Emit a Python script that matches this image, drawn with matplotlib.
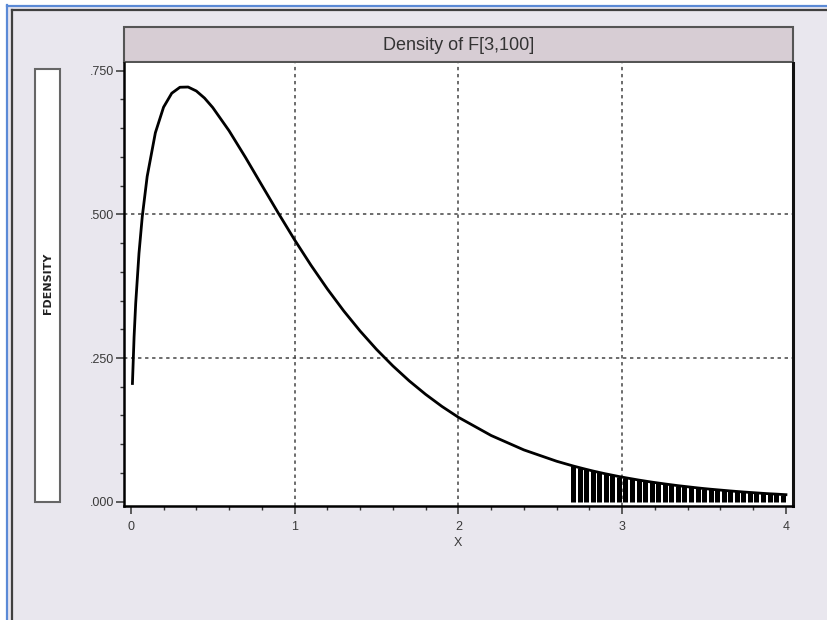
import numpy as np
import matplotlib
matplotlib.use("Agg")
import matplotlib.pyplot as plt
from matplotlib.patches import Rectangle
from matplotlib.lines import Line2D
from matplotlib.ticker import MultipleLocator, FuncFormatter

plt.rcParams["font.family"] = ["Liberation Sans", "DejaVu Sans"]

TITLE = "Density of F[3,100]"
YLABEL = "FDENSITY"
XLABEL = "X"
X_TICKS = [0, 1, 2, 3, 4]
Y_TICKS = [0.0, 0.25, 0.5, 0.75]
CRIT = 2.70  # shaded tail starts here

# density curve
x_vals = [0.01, 0.02, 0.03, 0.05, 0.07, 0.10, 0.15, 0.20, 0.25, 0.30, 0.35,
          0.40, 0.45, 0.50, 0.60, 0.70, 0.80, 0.90, 1.00, 1.10, 1.20, 1.30,
          1.40, 1.50, 1.60, 1.70, 1.80, 1.90, 2.00, 2.20, 2.40, 2.60,
          2.70, 2.74, 2.78, 2.82, 2.86, 2.90, 2.94, 2.98, 3.02, 3.06, 3.10,
          3.14, 3.18, 3.22, 3.26, 3.30, 3.34, 3.38, 3.42, 3.46, 3.50, 3.54,
          3.58, 3.62, 3.66, 3.70, 3.74, 3.78, 3.82, 3.86, 3.90, 3.94, 3.98,
          4.00]
dens = [0.2057, 0.2864, 0.3454, 0.4323, 0.4960, 0.5660, 0.6420, 0.6865,
        0.7108, 0.7212, 0.7216, 0.7147, 0.7024, 0.6860, 0.6455, 0.5992,
        0.5507, 0.5025, 0.4557, 0.4115, 0.3702, 0.3320, 0.2970, 0.2651,
        0.2363, 0.2102, 0.1868, 0.1657, 0.1469, 0.1152, 0.0901, 0.0704,
        0.0622, 0.0592, 0.0563, 0.0535, 0.0509, 0.0484, 0.0461, 0.0438,
        0.0417, 0.0397, 0.0377, 0.0359, 0.0341, 0.0325, 0.0309, 0.0294,
        0.0279, 0.0266, 0.0253, 0.0240, 0.0228, 0.0217, 0.0207, 0.0197,
        0.0187, 0.0178, 0.0169, 0.0161, 0.0153, 0.0145, 0.0138, 0.0132,
        0.0125, 0.0122]

W, H = 827, 620
fig = plt.figure(figsize=(W / 100, H / 100), dpi=100, facecolor="white")


def box(x0, y0, x1, y1):
    # pixel box (top-left origin) -> figure fraction rect
    return (x0 / W, 1 - y1 / H, (x1 - x0) / W, (y1 - y0) / H)


def fig_rect(x0, y0, x1, y1, **kw):
    l, b, w, h = box(x0, y0, x1, y1)
    fig.patches.append(Rectangle((l, b), w, h, transform=fig.transFigure, **kw))


def fig_line(xs, ys, **kw):
    fig.lines.append(Line2D([x / W for x in xs], [1 - y / H for y in ys],
                            transform=fig.transFigure, **kw))


# window background and borders
fig_rect(7, 5, W, H, facecolor="#E9E7EE", edgecolor="none", zorder=-10)
fig_line([7, W], [5.5, 5.5], color="#5B8AD6", lw=1.6, zorder=-5)
fig_line([7, 7], [5, H], color="#5B8AD6", lw=1.6, zorder=-5)
fig_line([12, W], [10, 10], color="#404040", lw=1.6, zorder=-5)
fig_line([12, 12], [10, H], color="#404040", lw=1.6, zorder=-5)

# title band
fig_rect(124, 27, 793, 62, facecolor="#D7CDD4", edgecolor="#555555", lw=1.5, zorder=-4)
fig.text(458.5 / W, 1 - 45 / H, TITLE, ha="center", va="center",
         fontsize=13, color="#333333")

# y label box
fig_rect(35, 69, 60, 502, facecolor="white", edgecolor="#666666", lw=1.5, zorder=-4)
fig.text(47.5 / W, 1 - 283 / H, YLABEL, rotation=90, ha="center", va="center",
         fontsize=8, fontweight="bold", color="#222222",
         family=["DejaVu Sans"])

ax = fig.add_axes(box(124, 63, 792.5, 506))
ax.set_facecolor("white")

x = np.array(x_vals)
y = np.array(dens)
tail = (x >= CRIT) & (x < 3.99)
ax.vlines(x[tail], 0, y[tail], color="black", lw=3.6, zorder=3)
ax.plot(x, y, color="black", lw=2.0, zorder=4)

for v in X_TICKS[1:-1]:
    ax.axvline(v, color="#444444", lw=1.1, ls=(0, (2.2, 2.4)), zorder=1)
for v in Y_TICKS[1:-1]:
    ax.axhline(v, color="#444444", lw=1.1, ls=(0, (2.2, 2.4)), zorder=1)

ax.set_xlim(-0.0415, 4.040)
ax.set_ylim(-0.0075, 0.7634)
ax.set_xticks(X_TICKS)
ax.set_yticks(Y_TICKS)
ax.xaxis.set_minor_locator(MultipleLocator(0.2))
ax.yaxis.set_minor_locator(MultipleLocator(0.05))
ax.yaxis.set_major_formatter(FuncFormatter(lambda v, p: f"{v:.3f}".lstrip("0") if v else ".000"))
ax.tick_params(which="major", direction="out", length=6, width=1.1, color="#333333",
               labelsize=9, labelcolor="#3a3a3a")
ax.tick_params(which="minor", direction="out", length=3, width=1, color="#333333")
ax.tick_params(axis="x", pad=5)
ax.tick_params(axis="y", pad=1)

for s in ["left", "bottom"]:
    ax.spines[s].set_linewidth(1.8)
    ax.spines[s].set_color("black")
ax.spines["right"].set_linewidth(2.2)
ax.spines["right"].set_color("#111111")
ax.spines["top"].set_visible(False)

ax.set_xlabel(XLABEL, fontsize=9, color="#3a3a3a", labelpad=3)

fig.savefig("out.png", dpi=100, facecolor=fig.get_facecolor())
